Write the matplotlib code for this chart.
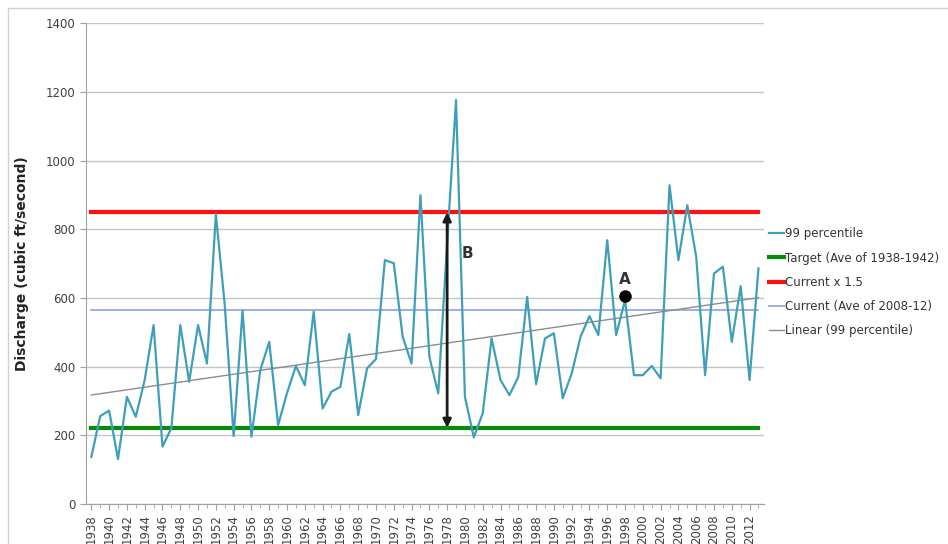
import numpy as np
import matplotlib
matplotlib.use("Agg")
import matplotlib.pyplot as plt
from matplotlib.patches import Rectangle

years = list(range(1938, 2014))
p99 = [137, 256, 272, 131, 312, 254, 361, 521, 167, 221,
       521, 356, 521, 409, 844, 580, 198, 563, 196, 390,
       472, 230, 323, 402, 346, 560, 278, 327, 341, 495,
       259, 395, 422, 710, 701, 487, 409, 899, 429, 322,
       760, 1176, 312, 194, 264, 482, 361, 317, 370, 603,
       349, 482, 497, 308, 380, 487, 547, 492, 768, 492,
       594, 375, 375, 402, 366, 928, 710, 870, 720, 375,
       671, 691, 472, 634, 361, 686]

target_val = 222     # Target (Ave of 1938-1942)
current_val = 566    # Current (Ave of 2008-12)
current_x15 = 849    # Current x 1.5

point_a = (1998, 605)
arrow_year = 1978

plt.rcParams['font.family'] = ['DejaVu Sans']

fig = plt.figure(figsize=(9.48, 5.44), dpi=100)
ax = fig.add_axes([0.0907, 0.0735, 0.715, 0.884])

x = np.array(years)
y = np.array(p99)

ax.plot(x, y, color='#3f9fba', lw=1.6, label='99 percentile', zorder=4)
ax.plot([1938, 2013], [target_val] * 2, color='#0a8a0a', lw=3,
        label='Target (Ave of 1938-1942)', zorder=3)
ax.plot([1938, 2013], [current_x15] * 2, color='#ff1010', lw=3,
        label='Current x 1.5', zorder=3)
ax.plot([1938, 2013], [current_val] * 2, color='#8aa4d8', lw=1.2,
        label='Current (Ave of 2008-12)', zorder=3)

k, b = np.polyfit(x, y, 1)
ax.plot([1938, 2013], [k * 1938 + b, k * 2013 + b], color='#8c8c8c', lw=1,
        label='Linear (99 percentile)', zorder=3)

# annotations
ax.annotate('', xy=(arrow_year, target_val), xytext=(arrow_year, current_x15),
            arrowprops=dict(arrowstyle='<|-|>', color='#1a1a1a', lw=2,
                            mutation_scale=12, shrinkA=0, shrinkB=0), zorder=5)
ax.text(arrow_year + 1.6, 715, 'B', fontsize=11, fontweight='bold', color='#333333')
ax.plot(*point_a, 'o', color='black', ms=8, zorder=6)
ax.text(point_a[0], point_a[1] + 35, 'A', fontsize=11, fontweight='bold',
        color='#333333', ha='center')

ax.set_xlim(1937.4, 2013.6)
ax.set_ylim(0, 1400)
ax.set_yticks(range(0, 1401, 200))
ax.set_xticks(range(1938, 2013, 2))
ax.set_xticks(range(1938, 2014), minor=True)
ax.tick_params(axis='x', labelrotation=90, labelsize=8.5, colors='#404040',
               length=4, width=0.8)
ax.tick_params(axis='x', which='minor', length=3, color='#a0a0a0')
ax.tick_params(axis='y', labelsize=8.5, colors='#404040', length=4, width=0.8)
ax.tick_params(axis='both', which='both', color='#a0a0a0')
ax.grid(axis='y', color='#c4c4c4', lw=1)
ax.set_axisbelow(True)
for side in ['top', 'right']:
    ax.spines[side].set_visible(False)
for side in ['left', 'bottom']:
    ax.spines[side].set_color('#a0a0a0')
ax.set_ylabel('Discharge (cubic ft/second)', fontsize=10, fontweight='bold',
              color='#222222', labelpad=12)

leg = ax.legend(loc='upper left', bbox_to_anchor=(1.0, 0.585), frameon=False,
                fontsize=8.5, handlelength=1.3, handletextpad=0.1,
                labelspacing=0.95, borderaxespad=0)
for t in leg.get_texts():
    t.set_color('#333333')

fig.patches.append(Rectangle((0.008, -0.01), 1.1, 0.995, transform=fig.transFigure,
                             fill=False, ec='#d0d0d0', lw=1))

fig.savefig('out.png', dpi=100)
